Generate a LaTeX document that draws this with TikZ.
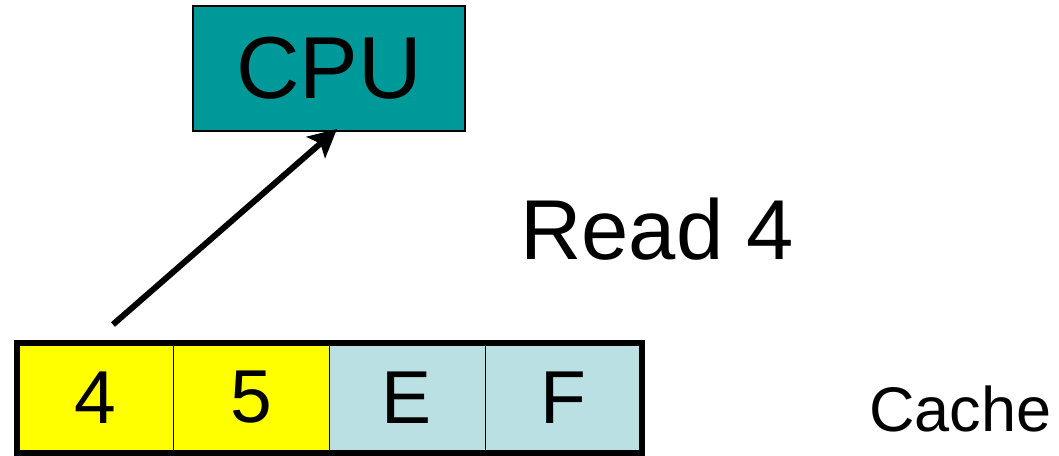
\documentclass[tikz,border=0pt]{standalone}
\usepackage{fontspec}
\setmainfont{Liberation Sans}
\usetikzlibrary{arrows.meta,calc}
\definecolor{cputeal}{RGB}{0,153,153}
\definecolor{hotyellow}{RGB}{255,255,0}
\definecolor{coldblue}{RGB}{187,224,227}
\begin{document}
\begin{tikzpicture}[x=1pt,y=-1pt,
  cell/.style={draw=black,line width=1pt,minimum width=156pt,minimum height=109pt,
    inner sep=0pt,font=\fontsize{75}{80}\selectfont},
  cpubox/.style={draw=black,line width=2pt,fill=cputeal,minimum width=272pt,
    minimum height=125pt,inner sep=0pt,font=\fontsize{88}{94}\selectfont},
  bigarrow/.style={line width=6pt,-{Stealth[length=28pt,width=28pt,inset=6pt]}}]
\useasboundingbox (0,0) rectangle (1059,455);
% processor
\node[cpubox] (cpu) at (329,68.5) {CPU};
% cache line with four slots
\node[cell,fill=hotyellow] (c1) at (95,397.5) {4};
\node[cell,fill=hotyellow] (c2) at (251,397.5) {5};
\node[cell,fill=coldblue] (c3) at (407,397.5) {E};
\node[cell,fill=coldblue] (c4) at (563,397.5) {F};
\draw[line width=6pt] (c1.north west) rectangle (c4.south east);
% labels
\node[anchor=base west,inner sep=0pt,font=\fontsize{85}{90}\selectfont] (rd) at (520,259) {Read 4};
\node[anchor=base west,inner sep=0pt,font=\fontsize{63}{68}\selectfont] (cl) at (869,431) {Cache};
% transfer from the cache to the processor
\coordinate (from) at ($(c1.north)+(18,-18)$);
\coordinate (to) at ($(cpu.south)+(8,-3)$);
\draw[bigarrow] (from) -- (to);
\end{tikzpicture}
\end{document}
